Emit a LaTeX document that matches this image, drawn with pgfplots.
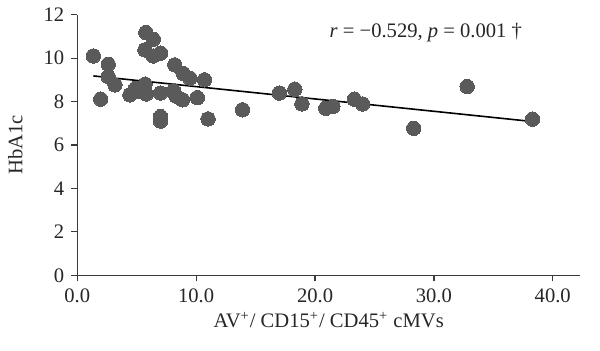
\documentclass[border=0pt]{standalone}
\usepackage{pgfplots}
\pgfplotsset{compat=1.18}
\usepackage{fontspec}
\setmainfont{Liberation Serif}
\definecolor{dotgray}{HTML}{5A5A5A}
\definecolor{axgray}{HTML}{3A3A3A}
\begin{document}
\begin{tikzpicture}
\begin{axis}[
  scale only axis,
  width=251.4pt, height=130.3pt,
  xmin=0, xmax=42.3, ymin=0, ymax=12,
  axis lines*=left,
  axis line style={axgray, line width=0.6pt},
  tick style={axgray, line width=0.6pt},
  tick align=outside,
  major tick length=3pt,
  xtick={0,10,20,30,40},
  ytick={0,2,4,6,8,10,12},
  xticklabel style={/pgf/number format/.cd, fixed, fixed zerofill, precision=1},
  /pgf/number format/assume math mode=true,
  ticklabel style={font=\fontsize{10.3}{12}\selectfont, text=black!85},
  label style={font=\fontsize{10.3}{12}\selectfont, text=black!85},
  xlabel={AV\textsuperscript{+}/ CD15\textsuperscript{+}/ CD45\textsuperscript{+} cMVs},
  ylabel={HbA1c},
  xlabel style={at={(axis description cs:0.5,0)}, anchor=center, yshift=-22.5pt},
  ylabel style={at={(axis description cs:-0.1233,0.5)}, anchor=center},
  clip=false,
]
\addplot[only marks, color=dotgray, mark=*, mark size=3.6pt, mark options={draw=dotgray, fill=dotgray, line width=0pt}] coordinates {
(1.35,10.1) (1.97,8.11) (2.6,9.72) (2.6,9.15) (3.17,8.77)
(4.43,8.31) (4.9,8.6) (5.3,8.45) (5.7,8.8) (5.8,8.35)
(5.77,11.18) (6.39,10.87) (5.69,10.38) (6.39,10.1) (7.0,10.23)
(7.0,8.39) (7.0,7.31) (7.0,7.1)
(8.2,9.69) (8.1,8.5) (8.3,8.25)
(8.9,9.3) (9.47,9.08) (10.7,9.0) (8.86,8.08) (10.1,8.18) (11.0,7.2)
(13.9,7.62) (17.0,8.39) (18.3,8.57) (18.9,7.89) (20.9,7.69) (21.5,7.77)
(23.3,8.11) (24.0,7.89) (28.3,6.77) (32.8,8.69) (38.3,7.19)
};
\addplot[black, line width=0.8pt] coordinates {(1.35,9.18) (38.3,7.08)};
\node[anchor=west, font=\fontsize{10.3}{12}\selectfont, text=black!85, inner sep=0pt] at (axis cs:21.2,11.2) {\textit{r} = −0.529, \textit{p} = 0.001 †};
\end{axis}
\pgfresetboundingbox
\useasboundingbox (-38.65pt,-37.85pt) rectangle (261.35pt,137.65pt);
\end{tikzpicture}
\end{document}
